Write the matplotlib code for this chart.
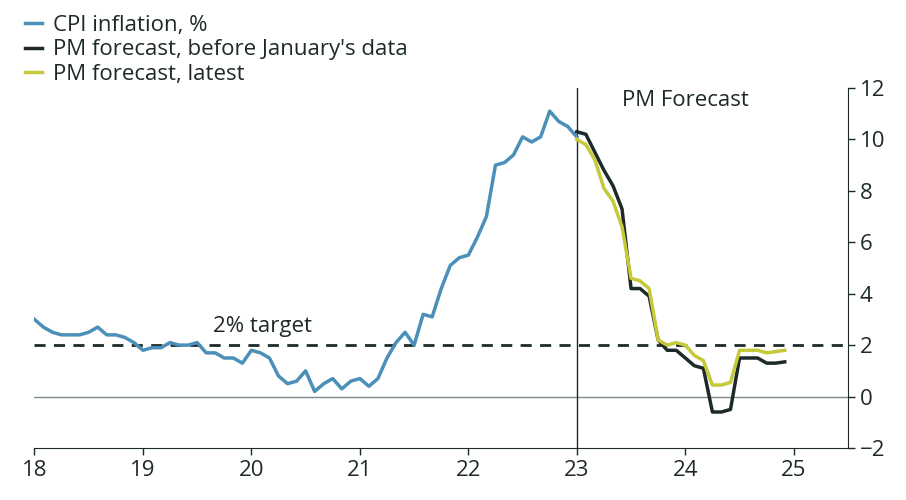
import matplotlib.pyplot as plt
import numpy as np

cpi = [3.0, 2.7, 2.5, 2.4, 2.4, 2.4, 2.5, 2.7, 2.4, 2.4, 2.3, 2.1,
       1.8, 1.9, 1.9, 2.1, 2.0, 2.0, 2.1, 1.7, 1.7, 1.5, 1.5, 1.3,
       1.8, 1.7, 1.5, 0.8, 0.5, 0.6, 1.0, 0.2, 0.5, 0.7, 0.3, 0.6,
       0.7, 0.4, 0.7, 1.5, 2.1, 2.5, 2.0, 3.2, 3.1, 4.2, 5.1, 5.4,
       5.5, 6.2, 7.0, 9.0, 9.1, 9.4, 10.1, 9.9, 10.1, 11.1, 10.7, 10.5,
       10.1]
fc_before = [10.3, 10.2, 9.5, 8.8, 8.2, 7.3, 4.2, 4.2, 3.9, 2.2, 1.8, 1.8,
             1.5, 1.2, 1.1, -0.6, -0.6, -0.5, 1.5, 1.5, 1.5, 1.3, 1.3, 1.35]
fc_latest = [10.0, 9.8, 9.2, 8.1, 7.6, 6.6, 4.6, 4.5, 4.2, 2.2, 2.0, 2.1,
             2.0, 1.6, 1.4, 0.45, 0.45, 0.55, 1.8, 1.8, 1.8, 1.7, 1.75, 1.8]

x_cpi = 18 + np.arange(len(cpi)) / 12
x_fc = 23 + np.arange(len(fc_before)) / 12

plt.rcParams['font.family'] = ['Open Sans', 'DejaVu Sans']
plt.rcParams['font.weight'] = 'medium'
fig = plt.figure(figsize=(9.06, 5), dpi=100)
ax = fig.add_axes([0.038, 0.104, 0.898, 0.72])

ax.axhline(0, color='#7f8c8c', lw=1)
ax.axhline(2, color='#1e2a2a', lw=2, ls=(0, (4, 3)))
ax.axvline(23, color='#1e2a2a', lw=1)
ax.plot(x_cpi, cpi, color='#4a90b8', lw=2.5, label='CPI inflation, %')
ax.plot(x_fc, fc_before, color='#1e2a2a', lw=2.5, label="PM forecast, before January's data")
ax.plot(x_fc, fc_latest, color='#c5c93a', lw=2.5, label='PM forecast, latest')

ax.text(20.1, 2.3, '2% target', fontsize=16, color='#1e2a2a', ha='center', va='bottom')
ax.text(24.0, 11.5, 'PM Forecast', fontsize=16, color='#1e2a2a', ha='center', va='center')

ax.set_xlim(18, 25.5)
ax.set_ylim(-2, 12)
ax.set_xticks(range(18, 26))
ax.set_yticks(range(-2, 13, 2))
ax.yaxis.tick_right()
ax.tick_params(labelsize=16, colors='#1e2a2a', length=5, width=1)
for s in ['top', 'left']:
    ax.spines[s].set_visible(False)
for s in ['right', 'bottom']:
    ax.spines[s].set_color('#1e2a2a')

fig.legend(loc='upper left', bbox_to_anchor=(0.005, 1.01), frameon=False, fontsize=16,
           handlelength=0.8, handletextpad=0.5, labelspacing=0.15, labelcolor='#1e2a2a')
fig.savefig('out.png')
